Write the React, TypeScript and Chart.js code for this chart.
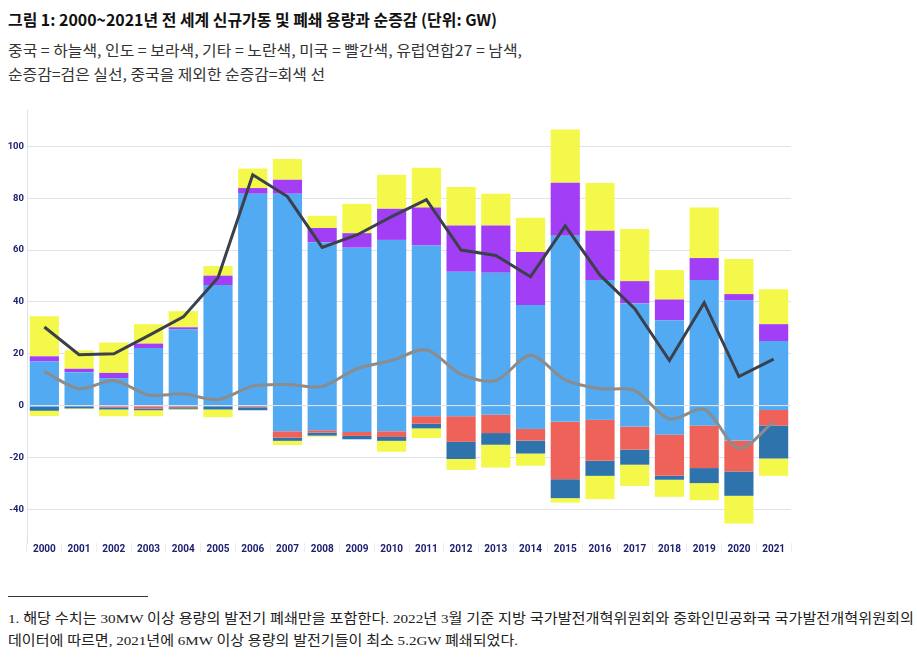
import React, { useEffect, useLayoutEffect, useRef } from "react";
import { Chart, registerables } from "chart.js";

Chart.register(...registerables);

const years = ["2000","2001","2002","2003","2004","2005","2006","2007","2008","2009","2010","2011","2012","2013","2014","2015","2016","2017","2018","2019","2020","2021"];

// Additions (GW)
const chinaAdd = [17.0, 12.9, 10.6, 22.2, 29.4, 46.5, 81.7, 81.7, 63.0, 60.9, 63.9, 61.7, 51.6, 51.2, 38.8, 65.5, 48.4, 39.4, 32.9, 48.4, 40.6, 24.9];
const indiaAdd = [2.0, 1.3, 2.0, 1.7, 0.8, 3.6, 2.2, 5.4, 5.5, 5.6, 12.0, 14.7, 17.9, 18.3, 20.4, 20.4, 19.0, 8.6, 8.0, 8.5, 2.4, 6.5];
const otherAdd = [15.5, 7.1, 11.7, 7.5, 6.2, 3.7, 7.5, 8.0, 4.7, 11.3, 13.1, 15.3, 14.8, 12.2, 13.2, 20.6, 18.4, 20.1, 11.4, 19.5, 13.5, 13.5];

// Retirements (GW)
const chinaRet = [-0.5, -0.3, -0.4, -0.3, -0.5, -0.3, -0.5, -9.9, -9.5, -10.2, -9.9, -4.1, -4.1, -3.5, -9.0, -6.2, -5.5, -8.1, -11.2, -7.7, -13.5, -1.7];
const usRet = [0, 0, -0.5, -0.9, -0.5, 0, -0.4, -2.5, -0.9, -1.5, -2.2, -2.9, -9.9, -7.1, -4.5, -22.2, -15.8, -8.9, -15.9, -16.4, -11.9, -6.0];
const euRet = [-1.5, -0.8, -0.6, -0.6, -0.4, -1.2, -0.9, -1.2, -1.2, -1.3, -1.5, -1.8, -6.6, -4.5, -5.0, -7.3, -5.8, -5.8, -1.5, -5.8, -9.4, -12.7];
const otherRet = [-2.0, -0.3, -2.6, -2.3, -0.3, -3.0, 0, -1.6, -0.4, 0, -4.2, -3.7, -4.2, -8.8, -4.7, -1.7, -9.0, -8.2, -6.6, -6.6, -10.7, -6.7];

// Net change lines (GW)
const netChange = [30.3, 19.6, 20.0, 27.0, 34.2, 49.3, 89.0, 80.6, 61.0, 65.8, 72.9, 79.4, 60.0, 57.9, 49.7, 69.3, 50.3, 37.4, 17.4, 39.7, 11.2, 17.9];
const netExChina = [13.2, 6.5, 9.7, 4.1, 4.5, 2.3, 7.5, 8.1, 7.4, 14.2, 17.4, 21.5, 12.0, 9.7, 19.4, 9.9, 6.5, 5.8, -5.2, -1.5, -16.5, -6.2];

const titleText = "그림 1: 2000~2021년 전 세계 신규가동 및 폐쇄 용량과 순증감 (단위: GW)";
const subLine1 = "중국 = 하늘색, 인도 = 보라색, 기타 = 노란색, 미국 = 빨간색, 유럽연합27 = 남색,";
const subLine2 = "순증감=검은 실선, 중국을 제외한 순증감=회색 선";
const footLine1 = "1. 해당 수치는 30MW 이상 용량의 발전기 폐쇄만을 포함한다. 2022년 3월 기준 지방 국가발전개혁위원회와 중화인민공화국 국가발전개혁위원회의";
const footLine2 = "데이터에 따르면, 2021년에 6MW 이상 용량의 발전기들이 최소 5.2GW 폐쇄되었다.";

const BLUE = "#51aaf2";
const PURPLE = "#a23ff6";
const YELLOW = "#f3f84a";
const RED = "#ee625a";
const NAVY = "#2f73ad";
const TICK = "#1e2170";

function FitText(props: { text: string; left: number; centerY: number; width: number; style: React.CSSProperties }) {
  const ref = useRef<HTMLSpanElement>(null);
  useLayoutEffect(() => {
    const el = ref.current;
    if (!el) return;
    el.style.transform = "none";
    const w = el.getBoundingClientRect().width;
    const h = el.getBoundingClientRect().height;
    const s = w > 0 ? props.width / w : 1;
    el.style.top = props.centerY - h / 2 + "px";
    el.style.transform = `scaleX(${s})`;
  }, [props.text, props.width, props.centerY]);
  return (
    <span
      ref={ref}
      style={{
        position: "absolute",
        left: props.left,
        top: props.centerY - 10,
        whiteSpace: "nowrap",
        display: "inline-block",
        transformOrigin: "left center",
        lineHeight: 1.2,
        ...props.style,
      }}
    >
      {props.text}
    </span>
  );
}

export default function App() {
  const canvasRef = useRef<HTMLCanvasElement>(null);

  useEffect(() => {
    const canvas = canvasRef.current;
    if (!canvas) return;
    const barBase = { type: "bar" as const, borderWidth: 0, barPercentage: 0.84, categoryPercentage: 1, stack: "s", order: 2 };
    const chart = new Chart(canvas, {
      type: "bar",
      data: {
        labels: years,
        datasets: [
          { ...barBase, label: "중국 신규", data: chinaAdd, backgroundColor: BLUE },
          { ...barBase, label: "중국 폐쇄", data: chinaRet, backgroundColor: BLUE },
          { ...barBase, label: "인도 신규", data: indiaAdd, backgroundColor: PURPLE },
          { ...barBase, label: "미국 폐쇄", data: usRet, backgroundColor: RED },
          { ...barBase, label: "유럽연합27 폐쇄", data: euRet, backgroundColor: NAVY },
          { ...barBase, label: "기타 신규", data: otherAdd, backgroundColor: YELLOW },
          { ...barBase, label: "기타 폐쇄", data: otherRet, backgroundColor: YELLOW },
          {
            type: "line" as const,
            label: "중국을 제외한 순증감",
            data: netExChina,
            borderColor: "#8c8c8c",
            borderWidth: 3,
            pointRadius: 0,
            tension: 0.3,
            stack: "l2",
            order: 1,
          } as any,
          {
            type: "line" as const,
            label: "순증감",
            data: netChange,
            borderColor: "#3b404c",
            borderWidth: 3,
            pointRadius: 0,
            tension: 0,
            stack: "l1",
            order: 0,
          } as any,
        ],
      },
      options: {
        responsive: false,
        animation: false,
        layout: { padding: { top: 10, right: 9, left: 0, bottom: 0 } },
        plugins: { legend: { display: false }, tooltip: { enabled: false } },
        scales: {
          x: {
            stacked: true,
            grid: { display: true, drawOnChartArea: false, drawTicks: true, tickLength: 9, color: "#ececf2", lineWidth: 1 },
            border: { display: false },
            ticks: {
              color: TICK,
              font: { family: "Roboto", weight: "bold", size: 10 },
              padding: -9,
              maxRotation: 0,
              autoSkip: false,
            },
            afterFit: (s: any) => { s.height = 17; },
          },
          y: {
            stacked: true,
            min: -53,
            max: 114,
            ticks: {
              stepSize: 20,
              color: TICK,
              font: { family: "Roboto", weight: "bold", size: 9.5 },
              padding: 3,
            },
            afterBuildTicks: (s: any) => {
              s.ticks = s.ticks.filter((t: any) => Math.abs(t.value % 20) < 1e-9);
            },
            afterFit: (s: any) => { s.width = 27; },
            grid: { color: "#e1e1ea", lineWidth: 1, drawTicks: false },
            border: { display: true, color: "#e1e1ea" },
          },
        },
      },
    });
    return () => chart.destroy();
  }, []);

  return (
    <div style={{ position: "fixed", left: 0, top: 0, width: 917, height: 657, background: "#fff", overflow: "hidden" }}>
      <FitText
        text={titleText}
        left={8}
        centerY={20}
        width={489}
        style={{ fontFamily: "'Noto Sans CJK KR', sans-serif", fontWeight: 700, fontSize: 16, color: "#111" }}
      />
      <FitText
        text={subLine1}
        left={8}
        centerY={50}
        width={514}
        style={{ fontFamily: "'Noto Sans CJK KR', sans-serif", fontWeight: 400, fontSize: 14.5, color: "#333" }}
      />
      <FitText
        text={subLine2}
        left={8}
        centerY={74}
        width={317}
        style={{ fontFamily: "'Noto Sans CJK KR', sans-serif", fontWeight: 400, fontSize: 14.5, color: "#333" }}
      />
      <div style={{ position: "absolute", left: 0, top: 100, width: 800, height: 460 }}>
        <canvas ref={canvasRef} width={800} height={460} style={{ width: 800, height: 460, display: "block" }} />
      </div>
      <div style={{ position: "absolute", left: 8, top: 596, width: 140, height: 1, background: "#333" }} />
      <FitText
        text={footLine1}
        left={8}
        centerY={619}
        width={906}
        style={{ fontFamily: "'Liberation Serif', 'Noto Sans CJK KR', serif", fontWeight: 400, fontSize: 13.5, color: "#222" }}
      />
      <FitText
        text={footLine2}
        left={8}
        centerY={641}
        width={510}
        style={{ fontFamily: "'Liberation Serif', 'Noto Sans CJK KR', serif", fontWeight: 400, fontSize: 13.5, color: "#222" }}
      />
    </div>
  );
}
